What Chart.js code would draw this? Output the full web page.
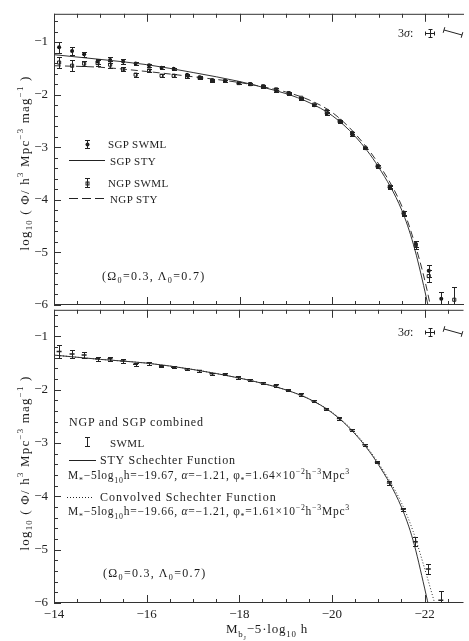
<!DOCTYPE html>
<html><head><meta charset="utf-8">
<script src="https://cdn.jsdelivr.net/npm/chart.js@4.4.1/dist/chart.umd.min.js"></script>
<style>
html,body{margin:0;padding:0;background:#fff}
body{width:469px;height:641px;overflow:hidden;position:relative;font-family:"Liberation Serif",serif;color:#1c1c1c}
canvas{position:absolute;left:0}
.t{position:absolute;white-space:nowrap;font-size:12px;line-height:1;transform:translateY(-50%)}
.s{font-size:11px;letter-spacing:0.4px}
.m{font-size:11.5px;letter-spacing:0.75px}
.w{letter-spacing:0.8px}
.o{letter-spacing:1.3px}
.yt{position:absolute;white-space:nowrap;font-size:13px;letter-spacing:1.2px;line-height:1;transform:translate(-50%,-50%) rotate(-90deg)}
sub,sup{font-size:68%;line-height:0}
</style></head><body>
<canvas id="c1" width="469" height="320" style="top:0"></canvas>
<canvas id="c2" width="469" height="345" style="top:296px"></canvas>

<div class="yt" style="left:24px;top:163px">log<sub>10</sub> ( Φ/ h<sup>3</sup> Mpc<sup>−3</sup> mag<sup>−1</sup> )</div>
<div class="yt" style="left:24px;top:463px">log<sub>10</sub> ( Φ/ h<sup>3</sup> Mpc<sup>−3</sup> mag<sup>−1</sup> )</div>

<div class="t s" style="left:108px;top:144px">SGP SWML</div>
<div class="t s" style="left:110px;top:161px">SGP STY</div>
<div class="t s" style="left:108px;top:183px">NGP SWML</div>
<div class="t s" style="left:110px;top:199px">NGP STY</div>
<div class="t o" style="left:102px;top:276px">(Ω<sub>0</sub>=0.3, Λ<sub>0</sub>=0.7)</div>
<div class="t" style="left:398px;top:33px">3<i>σ</i>:</div>

<div class="t w" style="left:69px;top:422px">NGP and SGP combined</div>
<div class="t s" style="left:110px;top:443px">SWML</div>
<div class="t w" style="left:100px;top:460px">STY Schechter Function</div>
<div class="t m" style="left:68px;top:476px">M<sub>*</sub>−5log<sub>10</sub>h=−19.67, <i>α</i>=−1.21, φ<sub>*</sub>=1.64×10<sup>−2</sup>h<sup>−3</sup>Mpc<sup>3</sup></div>
<div class="t w" style="left:100px;top:497px;letter-spacing:1px">Convolved Schechter Function</div>
<div class="t m" style="left:68px;top:512px">M<sub>*</sub>−5log<sub>10</sub>h=−19.66, <i>α</i>=−1.21, φ<sub>*</sub>=1.61×10<sup>−2</sup>h<sup>−3</sup>Mpc<sup>3</sup></div>
<div class="t o" style="left:103px;top:573px">(Ω<sub>0</sub>=0.3, Λ<sub>0</sub>=0.7)</div>
<div class="t" style="left:398px;top:332px">3<i>σ</i>:</div>
<div class="t w" style="left:226px;top:630px;font-size:13px">M<sub>b<sub>J</sub></sub>−5·log<sub>10</sub> h</div>

<script>
// ---------- data ----------
const mags = [-14.11,-14.39,-14.65,-14.94,-15.21,-15.49,-15.76,-16.05,-16.32,-16.58,-16.87,-17.14,-17.41,-17.69,-17.98,
              -18.23,-18.51,-18.79,-19.06,-19.33,-19.61,-19.88,-20.16,-20.43,-20.71,-20.98,-21.24,-21.54,-21.80,-22.08,-22.35,-22.63];
const sgpPhi = [-1.10,-1.17,-1.23,-1.37,-1.34,-1.37,-1.41,-1.44,-1.49,-1.51,-1.62,-1.67,-1.72,-1.74,-1.78,
                -1.80,-1.85,-1.93,-1.99,-2.08,-2.20,-2.36,-2.52,-2.76,-3.02,-3.36,-3.76,-4.26,-4.84,-5.35,-5.88,null];
const sgpErr = [0.10,0.08,0.05,0.05,0.06,0.04,0.03,0.03,0.03,0.02,0.02,0.02,0.02,0.02,0.02,
                0.02,0.02,0.02,0.02,0.02,0.02,0.02,0.02,0.02,0.02,0.03,0.03,0.04,0.06,0.12,0.12,null];
const ngpPhi = [-1.39,-1.45,-1.41,-1.40,-1.43,-1.52,-1.62,-1.54,-1.64,-1.64,-1.66,-1.68,-1.74,-1.74,-1.78,
                -1.80,-1.84,-1.90,-1.97,-2.06,-2.19,-2.31,-2.50,-2.73,-3.01,-3.36,-3.75,-4.25,-4.86,-5.45,null,-5.90];
const ngpErr = [0.10,0.10,0.05,0.05,0.07,0.04,0.04,0.03,0.03,0.03,0.03,0.02,0.02,0.02,0.02,
                0.02,0.02,0.02,0.02,0.02,0.02,0.02,0.02,0.02,0.02,0.03,0.03,0.04,0.07,0.12,null,0.24];
const allPhi = [-1.28,-1.33,-1.35,-1.42,-1.42,-1.46,-1.52,-1.50,-1.56,-1.58,-1.61,-1.64,-1.70,-1.71,-1.77,
                -1.81,-1.87,-1.92,-2.01,-2.09,-2.21,-2.36,-2.54,-2.75,-3.03,-3.36,-3.75,-4.24,-4.85,-5.36,-5.95,null];
const allErr = [0.12,0.07,0.06,0.04,0.04,0.03,0.03,0.03,0.02,0.02,0.02,0.02,0.02,0.02,0.02,
                0.02,0.02,0.02,0.02,0.02,0.02,0.02,0.02,0.02,0.02,0.02,0.03,0.03,0.08,0.10,0.17,null];

const curveM  = [-14,-15,-16,-17,-18,-18.5,-19,-19.5,-20,-20.5,-21,-21.5,-21.75,-22,-22.25];
const sgpSty  = [-1.24,-1.33,-1.43,-1.58,-1.75,-1.86,-1.98,-2.15,-2.40,-2.80,-3.38,-4.20,-4.85,-5.75,-6.8];
const ngpSty  = [-1.45,-1.48,-1.56,-1.66,-1.77,-1.85,-1.95,-2.10,-2.34,-2.75,-3.32,-4.12,-4.75,-5.55,-6.6];
const allSty  = [-1.35,-1.43,-1.50,-1.62,-1.78,-1.88,-2.00,-2.17,-2.43,-2.83,-3.40,-4.20,-4.82,-5.72,-6.7];
const allConv = [-1.35,-1.43,-1.50,-1.62,-1.78,-1.88,-2.00,-2.17,-2.42,-2.81,-3.37,-4.12,-4.65,-5.35,-6.1];

const xTicks = [-14,-16,-18,-20,-22];
const yTicks = [-6,-5,-4,-3,-2,-1];

// ---------- helpers ----------
const INK = '#222';
const pts = (xs, ys) => xs.map((x,i)=>({x, y: ys[i]}));
const fmt = v => String(v).replace('-', '\u2212');
Chart.defaults.font.family = 'Liberation Serif';
Chart.defaults.color = INK;

const frame = {
  id: 'frame',
  afterDraw(chart) {
    const {ctx, chartArea: a, scales: {x, y}} = chart;
    ctx.save();
    ctx.strokeStyle = '#333'; ctx.lineWidth = 1;
    ctx.beginPath();
    ctx.moveTo(a.left + 0.5, a.top + 0.5); ctx.lineTo(a.right, a.top + 0.5);
    ctx.moveTo(a.left + 0.5, a.top); ctx.lineTo(a.left + 0.5, a.bottom);
    ctx.moveTo(a.left, a.bottom - 0.5); ctx.lineTo(a.right, a.bottom - 0.5);
    for (let k = 0; k <= 17; k++) {
      const v = -14 - 0.5 * k;
      const px = Math.round(x.getPixelForValue(v)) + 0.5;
      const len = (k % 4 === 0) ? 8 : 4;
      ctx.moveTo(px, a.top); ctx.lineTo(px, a.top + len);
      ctx.moveTo(px, a.bottom); ctx.lineTo(px, a.bottom - len);
    }
    for (let k = 0; k <= 28; k++) {
      const v = -6 + 0.2 * k;
      if (v > y.max) break;
      const py = Math.round(y.getPixelForValue(v)) + 0.5;
      const len = (k % 5 === 0) ? 7 : 4;
      ctx.moveTo(a.left, py); ctx.lineTo(a.left + len, py);
    }
    ctx.stroke();
    ctx.restore();
  }
};

const errs = {
  id: 'errs',
  afterDatasetsDraw(chart) {
    const {ctx, chartArea: a, scales: {x, y}} = chart;
    ctx.save();
    ctx.beginPath(); ctx.rect(a.left, a.top, a.right - a.left, a.bottom - a.top); ctx.clip();
    ctx.strokeStyle = INK; ctx.lineWidth = 1;
    chart.data.datasets.forEach(ds => {
      if (!ds.err) return;
      ctx.beginPath();
      ds.data.forEach((p, i) => {
        if (p.y == null || ds.err[i] == null) return;
        const px = Math.round(x.getPixelForValue(p.x)) + 0.5;
        const yt = Math.round(y.getPixelForValue(p.y + ds.err[i])) + 0.5;
        const yb = Math.round(y.getPixelForValue(p.y - ds.err[i])) + 0.5;
        ctx.moveTo(px, yt); ctx.lineTo(px, yb);
        ctx.moveTo(px - 2.5, yt); ctx.lineTo(px + 2.5, yt);
        ctx.moveTo(px - 2.5, yb); ctx.lineTo(px + 2.5, yb);
      });
      ctx.stroke();
    });
    ctx.restore();
  }
};

function sigmaKey(ctx, cy) {
  ctx.beginPath();
  ctx.moveTo(425, cy + 0.5); ctx.lineTo(435, cy + 0.5);
  ctx.moveTo(425.5, cy - 1.5); ctx.lineTo(425.5, cy + 2.5);
  ctx.moveTo(434.5, cy - 1.5); ctx.lineTo(434.5, cy + 2.5);
  ctx.moveTo(430.5, cy - 3.5); ctx.lineTo(430.5, cy + 4.5);
  ctx.moveTo(428.5, cy - 3.5); ctx.lineTo(432.5, cy - 3.5);
  ctx.moveTo(428.5, cy + 4.5); ctx.lineTo(432.5, cy + 4.5);
  ctx.moveTo(444, cy - 3); ctx.lineTo(462, cy + 2);
  ctx.moveTo(443.2, cy - 0.2); ctx.lineTo(444.8, cy - 5.8);
  ctx.moveTo(461.2, cy + 4.8); ctx.lineTo(462.8, cy - 0.8);
  ctx.stroke();
}

const keyTop = {
  id: 'keyTop',
  afterDraw(chart) {
    const ctx = chart.ctx;
    ctx.save(); ctx.strokeStyle = INK; ctx.fillStyle = INK; ctx.lineWidth = 1;
    ctx.beginPath();
    ctx.moveTo(87.5, 140); ctx.lineTo(87.5, 149);
    ctx.moveTo(85, 140.5); ctx.lineTo(90, 140.5);
    ctx.moveTo(85, 148.5); ctx.lineTo(90, 148.5);
    ctx.moveTo(87.5, 178); ctx.lineTo(87.5, 188);
    ctx.moveTo(85, 178.5); ctx.lineTo(90, 178.5);
    ctx.moveTo(85, 187.5); ctx.lineTo(90, 187.5);
    ctx.moveTo(69, 160.5); ctx.lineTo(105, 160.5);
    ctx.stroke();
    ctx.beginPath(); ctx.arc(87.5, 144.5, 2, 0, Math.PI * 2); ctx.fill();
    ctx.strokeRect(86, 182, 3, 3);
    ctx.setLineDash([9, 4]);
    ctx.beginPath(); ctx.moveTo(69, 198.5); ctx.lineTo(105, 198.5); ctx.stroke();
    ctx.setLineDash([]);
    sigmaKey(ctx, 33);
    ctx.restore();
  }
};

const keyBot = {
  id: 'keyBot',
  afterDraw(chart) {
    const ctx = chart.ctx;
    ctx.save(); ctx.strokeStyle = INK; ctx.lineWidth = 1;
    ctx.beginPath();
    ctx.moveTo(87.5, 141); ctx.lineTo(87.5, 151);
    ctx.moveTo(85, 141.5); ctx.lineTo(90, 141.5);
    ctx.moveTo(85, 150.5); ctx.lineTo(90, 150.5);
    ctx.moveTo(69, 164.5); ctx.lineTo(96, 164.5);
    ctx.stroke();
    ctx.setLineDash([1, 2]);
    ctx.beginPath(); ctx.moveTo(67, 201.5); ctx.lineTo(94, 201.5); ctx.stroke();
    ctx.setLineDash([]);
    sigmaKey(ctx, 36);
    ctx.restore();
  }
};

function yScale(max) {
  return {
    type: 'linear', min: -6, max: max,
    grid: {display: false, drawTicks: false, tickLength: 0}, border: {display: false},
    afterFit(s) { s.width = 54; },
    afterBuildTicks(s) { s.ticks = yTicks.map(v => ({value: v})); },
    ticks: {padding: 6, font: {size: 13}, color: INK, callback: v => fmt(v)}
  };
}

const curve = (data, dash) => ({
  type: 'line', data, borderColor: '#333', borderWidth: 1, borderDash: dash || [],
  pointRadius: 0, cubicInterpolationMode: 'monotone', fill: false
});

// ---------- top panel ----------
new Chart(document.getElementById('c1'), {
  type: 'line',
  data: {
    datasets: [
      curve(pts(curveM, sgpSty)),
      curve(pts(curveM, ngpSty), [7, 4]),
      {type: 'line', showLine: false, data: pts(mags, ngpPhi), err: ngpErr,
       pointStyle: 'rect', pointRadius: 2.2, borderWidth: 1, borderColor: INK, backgroundColor: 'rgba(255,255,255,0)'},
      {type: 'line', showLine: false, data: pts(mags, sgpPhi), err: sgpErr,
       pointStyle: 'circle', pointRadius: 2, borderWidth: 0, backgroundColor: '#111'}
    ]
  },
  options: {
    responsive: false, animation: false, devicePixelRatio: 1,
    layout: {padding: {top: 6, right: 0, bottom: 15, left: 0}},
    plugins: {legend: {display: false}, tooltip: {enabled: false}},
    scales: {
      x: {type: 'linear', reverse: true, min: -22.84, max: -14, display: false},
      y: yScale(-0.463)
    }
  },
  plugins: [frame, errs, keyTop]
});

// ---------- bottom panel ----------
new Chart(document.getElementById('c2'), {
  type: 'line',
  data: {
    datasets: [
      curve(pts(curveM, allSty)),
      curve(pts(curveM, allConv), [1, 2]),
      {type: 'line', showLine: false, data: pts(mags, allPhi), err: allErr,
       pointStyle: 'line', pointRadius: 2.5, borderWidth: 1.5, borderColor: INK}
    ]
  },
  options: {
    responsive: false, animation: false, devicePixelRatio: 1,
    layout: {padding: {top: 9, right: 0, bottom: 0, left: 0}},
    plugins: {legend: {display: false}, tooltip: {enabled: false}},
    scales: {
      x: {type: 'linear', reverse: true, min: -22.84, max: -14,
          grid: {display: false, drawTicks: false, tickLength: 0}, border: {display: false},
          afterFit(s) { s.height = 38; },
          afterBuildTicks(s) { s.ticks = xTicks.map(v => ({value: v})); },
          ticks: {padding: 4, font: {size: 13}, color: INK, maxRotation: 0, autoSkip: false, callback: v => fmt(v)}},
      y: yScale(-0.5)
    }
  },
  plugins: [frame, errs, keyBot]
});
</script>
</body></html>
